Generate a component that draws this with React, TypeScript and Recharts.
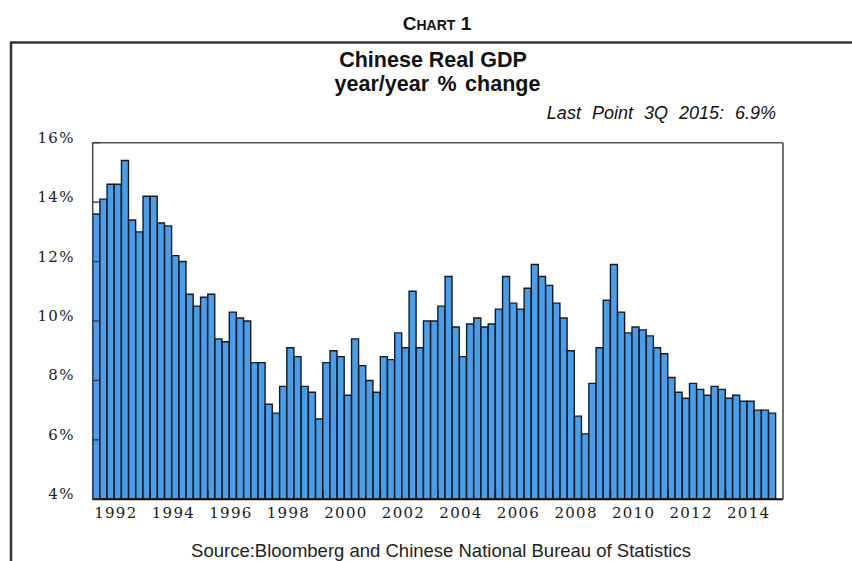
import React from 'react';
import { BarChart, Bar, XAxis, YAxis, ReferenceLine } from 'recharts';

// Chinese real GDP, year/year % change, quarterly 1Q 1992 - 3Q 2015
// (4Q 2015 is left empty, the axis keeps a slot for it)
const years = [
  1992, 1993, 1994, 1995, 1996, 1997, 1998, 1999, 2000, 2001, 2002, 2003,
  2004, 2005, 2006, 2007, 2008, 2009, 2010, 2011, 2012, 2013, 2014, 2015,
];
const quarters = ['Q1', 'Q2', 'Q3', 'Q4'];
const growth: (number | null)[] = [
  13.6, 14.1, 14.6, 14.6, // 1992
  15.4, 13.4, 13.0, 14.2, // 1993
  14.2, 13.3, 13.2, 12.2, // 1994
  12.0, 10.9, 10.5, 10.8, // 1995
  10.9, 9.4, 9.3, 10.3, // 1996
  10.1, 10.0, 8.6, 8.6, // 1997
  7.2, 6.9, 7.8, 9.1, // 1998
  8.8, 7.8, 7.6, 6.7, // 1999
  8.6, 9.0, 8.8, 7.5, // 2000
  9.4, 8.5, 8.0, 7.6, // 2001
  8.8, 8.7, 9.6, 9.1, // 2002
  11.0, 9.1, 10.0, 10.0, // 2003
  10.5, 11.5, 9.8, 8.8, // 2004
  9.9, 10.1, 9.8, 9.9, // 2005
  10.4, 11.5, 10.6, 10.4, // 2006
  11.1, 11.9, 11.5, 11.2, // 2007
  10.6, 10.1, 9.0, 6.8, // 2008
  6.2, 7.9, 9.1, 10.7, // 2009
  11.9, 10.3, 9.6, 9.8, // 2010
  9.7, 9.5, 9.1, 8.9, // 2011
  8.1, 7.6, 7.4, 7.9, // 2012
  7.7, 7.5, 7.8, 7.7, // 2013
  7.4, 7.5, 7.3, 7.3, // 2014
  7.0, 7.0, 6.9, null, // 2015
];
const yTicks = [4, 6, 8, 10, 12, 14, 16];
const labelYears = [1992, 1994, 1996, 1998, 2000, 2002, 2004, 2006, 2008, 2010, 2012, 2014];

const data = years.flatMap((year, i) =>
  quarters.map((q, j) => ({
    period: `${year} ${q}`,
    year,
    q: j + 1,
    value: growth[i * 4 + j],
  }))
);
const byPeriod: Record<string, (typeof data)[number]> = {};
data.forEach((d) => (byPeriod[d.period] = d));

// layout
const W = 852;
const H = 561;
const PLOT_L = 92.7;
const PLOT_R = 783;
const PLOT_T = 142.7;
const PLOT_B = 499.3;
const AXIS_W = 60;
const XAXIS_H = 30;
const YL_MARGIN = 18;
const YR_MARGIN = 12;
const X_MARGIN = 19;

const serif = '"DejaVu Serif", "Liberation Serif", serif';
const sans = '"Liberation Sans", Arial, Helvetica, sans-serif';
const labelStyle = { fontFamily: serif, fontSize: 15, letterSpacing: 1.3, fill: '#1a1a1a' };

const LeftTick = (props: any) => {
  const { x, y, payload } = props;
  const axisX = x + YL_MARGIN;
  return (
    <g>
      <line x1={axisX} x2={axisX + 7} y1={y} y2={y} stroke="#333" strokeWidth={1.3} />
      <text x={x} y={y} textAnchor="end" {...labelStyle}>
        {payload.value}%
      </text>
    </g>
  );
};

const RightTick = (props: any) => {
  const { x, y, payload } = props;
  const axisX = x - YR_MARGIN;
  return (
    <g>
      <line x1={axisX} x2={axisX - 7} y1={y} y2={y} stroke="#333" strokeWidth={1.3} />
      <text x={x} y={y} textAnchor="start" {...labelStyle}>
        {payload.value}%
      </text>
    </g>
  );
};

const XTick = (props: any) => {
  const { x, y, payload } = props;
  const d = byPeriod[payload.value];
  if (!d) return null;
  const half = payload.offset || (PLOT_R - PLOT_L) / data.length / 2;
  const base = y - X_MARGIN;
  const even = labelYears.includes(d.year);
  return (
    <g>
      {even && d.q === 1 && d.year !== years[0] && (
        <line x1={x - half} x2={x - half} y1={base} y2={base - 9} stroke="#111" strokeWidth={1.5} />
      )}
      {even && d.q === 4 && (
        <text x={x} y={y} dx={-2} textAnchor="middle" {...labelStyle}>
          {d.year}
        </text>
      )}
    </g>
  );
};

const App: React.FC = () => {
  return (
    <div style={{ position: 'absolute', left: 0, top: 0, width: W, height: H, background: '#fff' }}>
      <svg width={W} height={H} style={{ position: 'absolute', left: 0, top: 0 }}>
        {/* outer frame */}
        <line x1={11} x2={W} y1={42.5} y2={42.5} stroke="#333" strokeWidth={2.5} />
        <line x1={11} x2={11} y1={41.5} y2={H} stroke="#333" strokeWidth={2.5} />
        <text x={437} y={30} textAnchor="middle" fontFamily={sans} fontWeight="bold" fill="#111">
          <tspan fontSize={19}>C</tspan>
          <tspan fontSize={14}>HART</tspan>
          <tspan fontSize={19}> 1</tspan>
        </text>
        <text x={433} y={66.5} textAnchor="middle" fontFamily={sans} fontWeight="bold" fontSize={21.5} fill="#111">
          Chinese Real GDP
        </text>
        <text x={437.5} y={91} textAnchor="middle" fontFamily={sans} fontWeight="bold" fontSize={21.5} fill="#111" wordSpacing={2.5}>
          year/year % change
        </text>
        <text x={776} y={119} textAnchor="end" fontFamily={sans} fontStyle="italic" fontSize={18} fill="#111" wordSpacing={6}>
          Last Point 3Q 2015: 6.9%
        </text>
        <text x={441} y={556.5} textAnchor="middle" fontFamily={sans} fontSize={18.5} fill="#222">
          Source:Bloomberg and Chinese National Bureau of Statistics
        </text>
      </svg>
      <div style={{ position: 'absolute', left: 0, top: 0 }}>
        <BarChart
          width={W}
          height={H}
          data={data}
          barCategoryGap={0}
          barGap={0}
          margin={{
            top: PLOT_T,
            bottom: H - PLOT_B - XAXIS_H,
            left: PLOT_L - AXIS_W,
            right: W - PLOT_R - AXIS_W,
          }}
        >
          <XAxis
            dataKey="period"
            interval={0}
            height={XAXIS_H}
            tickSize={0}
            tickMargin={X_MARGIN}
            tickLine={false}
            tick={<XTick />}
            axisLine={{ stroke: '#111', strokeWidth: 2 }}
          />
          <YAxis
            yAxisId="left"
            orientation="left"
            width={AXIS_W}
            domain={[4, 16]}
            ticks={yTicks}
            interval={0}
            tickSize={0}
            tickMargin={YL_MARGIN}
            tickLine={false}
            tick={<LeftTick />}
            axisLine={{ stroke: '#444', strokeWidth: 1.5 }}
          />
          <YAxis
            yAxisId="right"
            orientation="right"
            width={AXIS_W}
            domain={[4, 16]}
            ticks={yTicks}
            interval={0}
            tickSize={0}
            tickMargin={YR_MARGIN}
            tickLine={false}
            tick={<RightTick />}
            axisLine={{ stroke: '#444', strokeWidth: 1.5 }}
          />
          <ReferenceLine yAxisId="left" y={16} stroke="#555" strokeWidth={1.5} />
          <Bar
            yAxisId="left"
            dataKey="value"
            fill="#479eec"
            stroke="#1a1a1a"
            strokeWidth={1.4}
            isAnimationActive={false}
          />
        </BarChart>
      </div>
    </div>
  );
};

export default App;
